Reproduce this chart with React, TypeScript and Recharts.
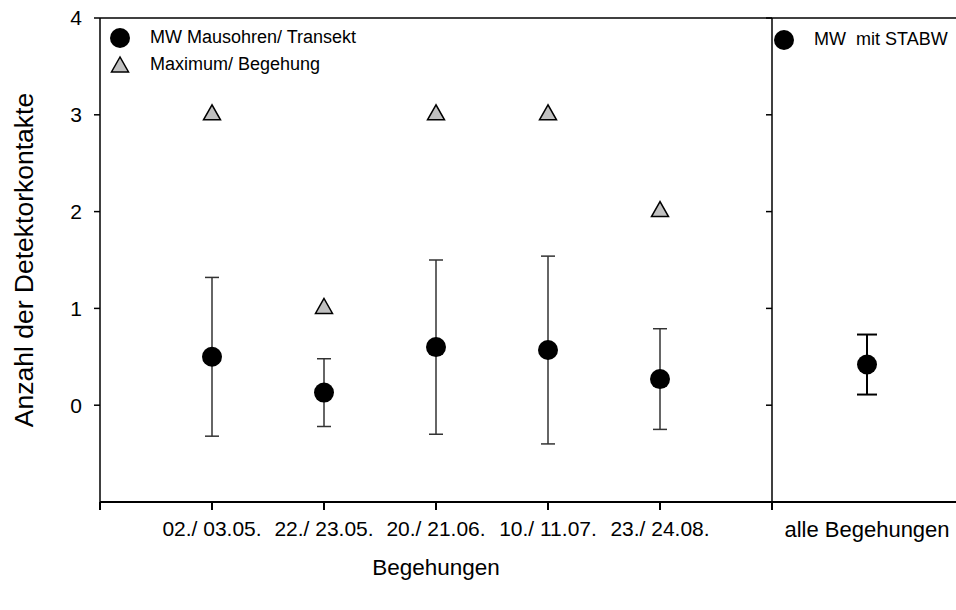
import {
    ErrorBar,
    Legend,
    ReferenceLine,
    Scatter,
    ScatterChart,
    XAxis,
    YAxis,
} from "recharts";

const categories = ["02./ 03.05.", "22./ 23.05.", "20./ 21.06.", "10./ 11.07.", "23./ 24.08."];
const meanValues = [0.5, 0.13, 0.6, 0.57, 0.27];
const sdValues = [0.82, 0.35, 0.9, 0.97, 0.52];
const maxValues = [3, 1, 3, 3, 2];
const overallLabel = ["alle Begehungen"];
const overallMean = [0.42];
const overallSd = [0.31];
const yTicks = [0, 1, 2, 3, 4];

const meanRows = categories.map((c, i) => ({ x: i + 1, y: meanValues[i], sd: sdValues[i] }));
const maxRows = categories.map((c, i) => ({ x: i + 1, y: maxValues[i] }));
const overallRows = overallMean.map((m, i) => ({ x: i + 1, y: m, sd: overallSd[i] }));

const font = "Arial, 'Liberation Sans', sans-serif";

function Dot(props: any) {
    return <circle cx={props.cx} cy={props.cy} r={10} fill="#000" />;
}

function Tri(props: any) {
    const { cx, cy } = props;
    return (
        <polygon
            points={`${cx},${cy - 10} ${cx - 8.5},${cy + 5} ${cx + 8.5},${cy + 5}`}
            fill="#c0c0c0"
            stroke="#000"
            strokeWidth={1.5}
        />
    );
}

function LegendBox({ payload }: any) {
    return (
        <div style={{ display: "flex", flexDirection: "column", fontFamily: font }}>
            {(payload || []).map((entry: any) => (
                <div key={entry.value} style={{ display: "flex", alignItems: "center", height: 27 }}>
                    <svg width={22} height={22}>
                        {entry.value.startsWith("Maximum") ? (
                            <polygon points="11,3 2.5,18 19.5,18" fill="#c0c0c0" stroke="#000" strokeWidth={1.5} />
                        ) : (
                            <circle cx={11} cy={11} r={10} fill="#000" />
                        )}
                    </svg>
                    <span style={{ marginLeft: 19, fontSize: 18, whiteSpace: "pre", color: "#000" }}>
                        {entry.value}
                    </span>
                </div>
            ))}
        </div>
    );
}

export default function App() {
    return (
        <div
            style={{
                position: "fixed",
                left: 0,
                top: 0,
                width: 956,
                height: 610,
                overflow: "hidden",
                background: "#fff",
                fontFamily: font,
            }}
        >
            <div style={{ position: "absolute", left: 0, top: 0 }}>
                <ScatterChart width={780} height={610} margin={{ top: 18, right: 8, left: 0, bottom: 48 }}>
                    <XAxis
                        type="number"
                        dataKey="x"
                        domain={[0, 6]}
                        ticks={[0, 1, 2, 3, 4, 5, 6]}
                        tickFormatter={(v: number) => categories[v - 1] ?? ""}
                        height={60}
                        tickSize={8}
                        tickMargin={11}
                        axisLine={{ stroke: "#000", strokeWidth: 2 }}
                        tickLine={{ stroke: "#000", strokeWidth: 2 }}
                        tick={{ fill: "#000", fontSize: 21 }}
                        label={{ value: "Begehungen", position: "bottom", offset: -3, fill: "#000", fontSize: 22.5 }}
                    />
                    <YAxis
                        type="number"
                        dataKey="y"
                        domain={[-1, 4]}
                        ticks={yTicks}
                        width={100}
                        tickSize={6}
                        tickMargin={12}
                        axisLine={{ stroke: "#000", strokeWidth: 1.5 }}
                        tickLine={{ stroke: "#000", strokeWidth: 1.5 }}
                        tick={{ fill: "#000", fontSize: 21 }}
                        label={{
                            value: "Anzahl der Detektorkontakte",
                            angle: -90,
                            position: "insideLeft",
                            offset: 24,
                            fill: "#000",
                            fontSize: 26.5,
                            style: { textAnchor: "middle" },
                        }}
                    />
                    <ReferenceLine y={4} stroke="#000" strokeWidth={1.5} />
                    <Legend
                        layout="vertical"
                        align="center"
                        verticalAlign="middle"
                        wrapperStyle={{ left: 109, top: 24, width: "auto", height: "auto" }}
                        content={<LegendBox />}
                    />
                    <Scatter
                        name="MW Mausohren/ Transekt"
                        data={meanRows}
                        shape={<Dot />}
                        isAnimationActive={false}
                    >
                        <ErrorBar dataKey="sd" direction="y" width={7} stroke="#333" strokeWidth={1.5} />
                    </Scatter>
                    <Scatter
                        name="Maximum/ Begehung"
                        data={maxRows}
                        shape={<Tri />}
                        legendType="triangle"
                        isAnimationActive={false}
                    />
                </ScatterChart>
            </div>
            <div style={{ position: "absolute", left: 700, top: 0 }}>
                <ScatterChart width={262} height={610} margin={{ top: 18, right: 0, left: 0, bottom: 48 }}>
                    <XAxis
                        type="number"
                        dataKey="x"
                        domain={[0, 2]}
                        ticks={[1]}
                        tickFormatter={(v: number) => overallLabel[v - 1] ?? ""}
                        height={60}
                        tickSize={8}
                        tickMargin={11}
                        tickLine={false}
                        axisLine={{ stroke: "#000", strokeWidth: 2 }}
                        tick={{ fill: "#000", fontSize: 22 }}
                    />
                    <YAxis
                        type="number"
                        dataKey="y"
                        domain={[-1, 4]}
                        ticks={yTicks}
                        width={72}
                        tickSize={6}
                        tickFormatter={() => ""}
                        axisLine={{ stroke: "#000", strokeWidth: 1.5 }}
                        tickLine={{ stroke: "#000", strokeWidth: 1.5 }}
                    />
                    <ReferenceLine y={4} stroke="#000" strokeWidth={1.5} />
                    <Legend
                        layout="vertical"
                        align="center"
                        verticalAlign="middle"
                        wrapperStyle={{ left: 73, top: 26, width: "auto", height: "auto" }}
                        content={<LegendBox />}
                    />
                    <Scatter
                        name="MW  mit STABW"
                        data={overallRows}
                        shape={<Dot />}
                        isAnimationActive={false}
                    >
                        <ErrorBar dataKey="sd" direction="y" width={10} stroke="#000" strokeWidth={2} />
                    </Scatter>
                </ScatterChart>
            </div>
        </div>
    );
}
